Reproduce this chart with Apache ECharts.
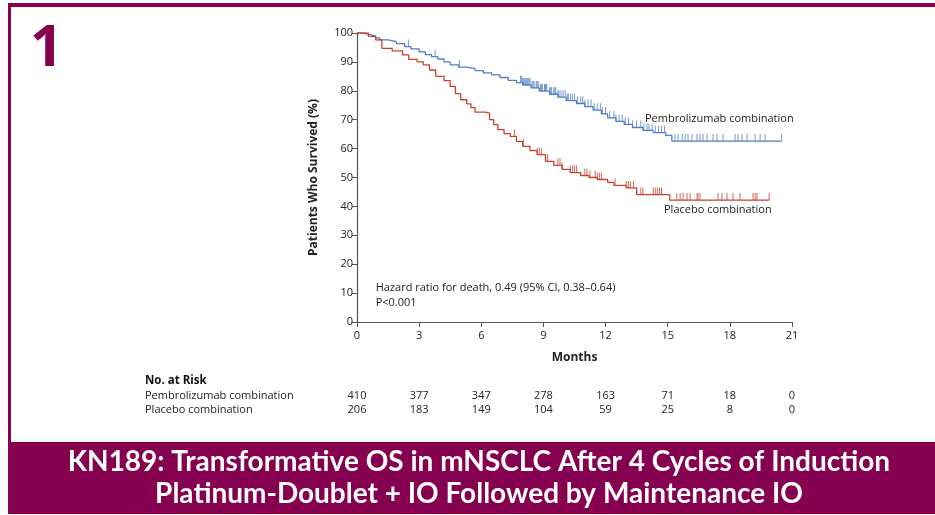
<!DOCTYPE html>
<html>
<head>
<meta charset="utf-8">
<script src="https://cdn.jsdelivr.net/npm/echarts@6/dist/echarts.min.js"></script>
<style>
html,body{margin:0;padding:0;background:#fff;}
#c{width:935px;height:515px;}
</style>
</head>
<body>
<div id="c"></div>
<script>
// ---- data ----
var xTicks = [0, 3, 6, 9, 12, 15, 18, 21];
var pembroTimes = [0, 0.3, 0.6, 0.9, 1.1, 1.5, 1.9, 2.3, 2.6, 3.0, 3.3, 3.6, 3.9, 4.2, 4.5, 4.9, 5.3, 5.7, 6.1, 6.5, 6.9, 7.3, 7.7, 8.0, 8.4, 8.8, 9.3, 9.7, 10.1, 10.6, 11.0, 11.4, 11.8, 12.1, 12.5, 12.9, 13.3, 13.8, 14.3, 14.9, 15.2, 20.5];
var pembroSurv  = [100, 99.5, 99, 98.3, 97.6, 97, 96.3, 95.3, 94.5, 93.5, 92.5, 91.8, 91.0, 90.0, 89.0, 88.2, 87.7, 87.0, 86.2, 85.5, 84.6, 83.6, 82.8, 82.0, 81.0, 79.9, 78.8, 77.8, 76.6, 75.6, 74.5, 73.3, 72.0, 70.6, 69.4, 68.4, 67.3, 66.3, 65.5, 64.6, 62.6, 62.6];
var placeboTimes = [0, 0.55, 0.9, 1.2, 1.7, 2.2, 2.5, 2.9, 3.2, 3.5, 3.8, 4.2, 4.5, 4.75, 5.0, 5.3, 5.5, 5.7, 6.2, 6.4, 6.6, 6.8, 7.1, 7.4, 7.7, 8.0, 8.35, 8.7, 9.1, 9.5, 9.9, 10.3, 10.8, 11.2, 11.6, 12.1, 12.4, 13.0, 13.5, 15.1, 19.9];
var placeboSurv  = [100, 98.8, 97.6, 94.7, 93.8, 92.4, 90.9, 90.0, 89.0, 87.2, 85.0, 83.5, 81.5, 79.0, 76.9, 75.5, 74.2, 72.6, 72.3, 70.0, 68.3, 66.6, 65.2, 64.2, 62.5, 60.8, 59.3, 57.9, 55.6, 54.2, 52.8, 51.7, 50.7, 50.0, 49.3, 48.3, 47.3, 46.4, 44.1, 42.2, 42.2];
var pembroCensor = [2.48, 3.77, 4.94, 7.9, 7.95, 8.0, 8.05, 8.1, 8.15, 8.2, 8.25, 8.3, 8.35, 8.45, 8.5, 8.55, 8.65, 8.7, 8.75, 8.85, 8.9, 8.95, 9.05, 9.1, 9.15, 9.3, 9.35, 9.4, 9.5, 9.55, 9.6, 9.7, 9.75, 9.85, 9.95, 10.05, 10.15, 10.2, 10.3, 10.4, 10.5, 10.65, 10.8, 10.9, 11.0, 11.15, 11.3, 11.45, 11.6, 11.75, 11.85, 12.0, 12.2, 12.4, 12.5, 12.65, 12.8, 12.95, 13.1, 13.3, 13.5, 13.7, 13.85, 14.0, 14.1, 14.25, 14.4, 14.55, 14.7, 14.85, 15.35, 15.5, 15.7, 15.84, 15.98, 16.17, 16.41, 16.56, 16.7, 16.9, 17.19, 17.38, 17.67, 18.25, 18.4, 18.59, 18.83, 19.22, 19.46, 19.7, 20.5];
var placeboCensor = [7.6, 8.03, 8.7, 8.8, 8.9, 9.2, 9.7, 9.8, 9.9, 10.3, 10.4, 10.5, 10.6, 11.0, 11.1, 11.25, 11.5, 11.6, 11.7, 11.8, 12.46, 13.0, 13.1, 13.2, 13.35, 13.5, 13.7, 13.8, 14.3, 14.4, 14.5, 14.6, 14.7, 15.44, 15.6, 15.74, 15.93, 16.08, 16.42, 16.46, 16.56, 17.43, 17.62, 17.86, 18.15, 18.49, 19.12, 19.22, 19.31, 19.9];
var riskLabels = ['Pembrolizumab combination', 'Placebo combination'];
var pembroRisk = [410, 377, 347, 278, 163, 71, 18, 0];
var placeboRisk = [206, 183, 149, 104, 59, 25, 8, 0];
var seriesNames = ['Pembrolizumab combination', 'Placebo combination'];
var hrText = 'Hazard ratio for death, 0.49 (95% CI, 0.38\u20130.64)';
var pText = 'P<0.001';
var titleLines = ['KN189: Transformative OS in mNSCLC After 4 Cycles of Induction', 'Platinum-Doublet + IO Followed by Maintenance IO'];
var panelNumber = '1';

// ---- helpers ----
function pairs(ts, ss) { return ts.map(function (t, i) { return [t, ss[i]]; }); }
function survAt(ts, ss, t) {
  var v = ss[0];
  for (var i = 0; i < ts.length; i++) { if (ts[i] <= t) v = ss[i]; }
  return v;
}
function censorPts(cs, ts, ss) { return cs.map(function (t) { return [t, survAt(ts, ss, t)]; }); }

var BLUE = '#4f7ec2', RED = '#c5432e', MAROON = '#85004f';
var FONT = '"Liberation Sans Narrow","Open Sans",sans-serif';

var chart = echarts.init(document.getElementById('c'));
var grid = { left: 357, top: 33, width: 435, height: 289 };

var option = {
  animation: false,
  grid: grid,
  xAxis: {
    type: 'value', min: 0, max: 21, interval: 3,
    axisLine: { lineStyle: { color: '#555', width: 1.2 } },
    axisTick: { length: 5, lineStyle: { color: '#555' } },
    splitLine: { show: false },
    axisLabel: { color: '#222', fontSize: 11, fontFamily: FONT, margin: 8 },
    name: 'Months', nameLocation: 'middle', nameGap: 30,
    nameTextStyle: { color: '#222', fontSize: 12, fontWeight: 'bold', fontFamily: FONT }
  },
  yAxis: {
    type: 'value', min: 0, max: 100, interval: 10,
    axisLine: { show: true, lineStyle: { color: '#555', width: 1.2 } },
    axisTick: { show: true, length: 5, lineStyle: { color: '#555' } },
    splitLine: { show: false },
    axisLabel: { color: '#222', fontSize: 11, fontFamily: FONT, margin: 4 },
    name: 'Patients Who Survived (%)', nameLocation: 'middle', nameGap: 37, nameRotate: 90,
    nameTextStyle: { color: '#222', fontSize: 12, fontWeight: 'bold', fontFamily: FONT }
  },
  series: [
    { name: seriesNames[0], type: 'line', step: 'end', symbol: 'none', data: pairs(pembroTimes, pembroSurv),
      lineStyle: { color: BLUE, width: 1.3 }, z: 3 },
    { name: seriesNames[1], type: 'line', step: 'end', symbol: 'none', data: pairs(placeboTimes, placeboSurv),
      lineStyle: { color: RED, width: 1.3 }, z: 3 },
    { type: 'scatter', data: censorPts(pembroCensor, pembroTimes, pembroSurv), symbol: 'rect',
      symbolSize: [1, 7], symbolOffset: [0, -3.5], itemStyle: { color: BLUE }, z: 4, silent: true },
    { type: 'scatter', data: censorPts(placeboCensor, placeboTimes, placeboSurv), symbol: 'rect',
      symbolSize: [1, 7], symbolOffset: [0, -3.5], itemStyle: { color: RED }, z: 4, silent: true }
  ]
};
chart.setOption(option);

// ---- text and frame graphics ----
var g = [];
function px(x, y) { return chart.convertToPixel({ gridIndex: 0 }, [x, y]); }
// frame
g.push({ type: 'rect', shape: { x: 8, y: 3, width: 935, height: 4 }, style: { fill: MAROON } });
g.push({ type: 'rect', shape: { x: 8, y: 3, width: 3, height: 440 }, style: { fill: MAROON } });
g.push({ type: 'rect', shape: { x: 8, y: 442, width: 935, height: 72 }, style: { fill: MAROON } });
g.push({ type: 'text', x: 30, y: 20, style: { text: panelNumber, fill: MAROON, font: 'bold 58px "Open Sans", sans-serif' } });
// banner title
g.push({ type: 'text', x: 479, y: 462, style: { text: titleLines[0], fill: '#fff', align: 'center', verticalAlign: 'middle', font: 'bold 28px Lato, sans-serif' } });
g.push({ type: 'text', x: 479, y: 494, style: { text: titleLines[1], fill: '#fff', align: 'center', verticalAlign: 'middle', font: 'bold 28px Lato, sans-serif' } });
// annotations
var a = px(0.9, 12.5);
g.push({ type: 'text', x: a[0], y: a[1] - 6, style: { text: hrText + '\n' + pText, fill: '#222', lineHeight: 15, font: '11px ' + FONT } });
var lb = px(14.0, survAt(pembroTimes, pembroSurv, 14.0));
g.push({ type: 'text', x: 645, y: lb[1] - 17, style: { text: seriesNames[0], fill: '#222', font: '11px ' + FONT } });
var lr = px(15.2, survAt(placeboTimes, placeboSurv, 15.2));
g.push({ type: 'text', x: 664, y: lr[1] + 4, style: { text: seriesNames[1], fill: '#222', font: '11px ' + FONT } });
// risk table
g.push({ type: 'text', x: 145, y: 375, style: { text: 'No. at Risk', fill: '#111', font: 'bold 11.5px ' + FONT } });
g.push({ type: 'text', x: 145, y: 390, style: { text: riskLabels[0], fill: '#222', font: '11px ' + FONT } });
g.push({ type: 'text', x: 145, y: 404, style: { text: riskLabels[1], fill: '#222', font: '11px ' + FONT } });
xTicks.forEach(function (t, i) {
  var p = px(t, 0);
  g.push({ type: 'text', x: p[0], y: 390, style: { text: String(pembroRisk[i]), fill: '#222', align: 'center', font: '11px ' + FONT } });
  g.push({ type: 'text', x: p[0], y: 404, style: { text: String(placeboRisk[i]), fill: '#222', align: 'center', font: '11px ' + FONT } });
});
chart.setOption({ graphic: g });
</script>
</body>
</html>
